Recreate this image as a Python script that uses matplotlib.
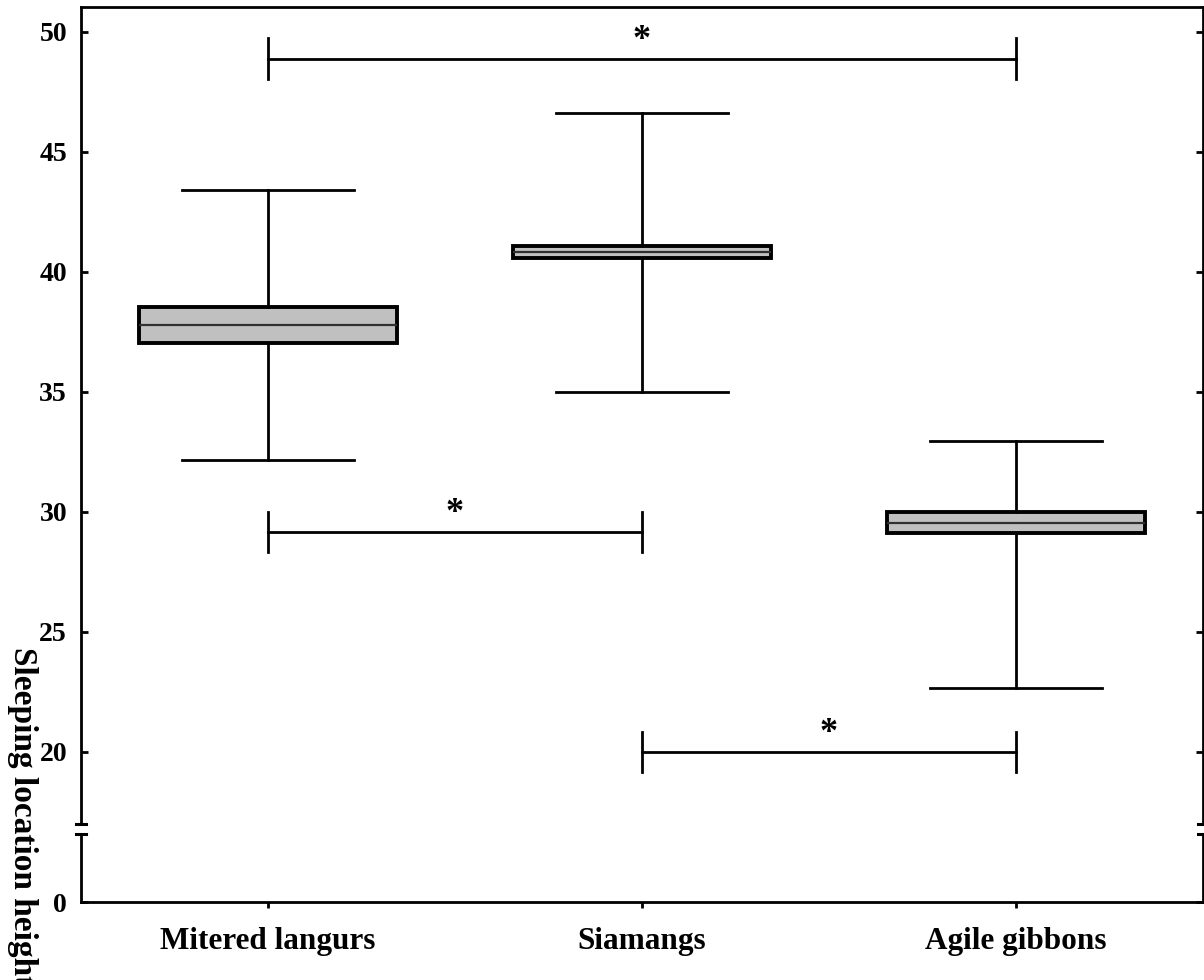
import matplotlib
matplotlib.use("Agg")
import matplotlib.pyplot as plt

plt.rcParams["font.family"] = ["Liberation Serif", "DejaVu Serif"]
plt.rcParams["font.weight"] = "bold"

# data (sleeping location height, m)
species = ["Mitered langurs", "Siamangs", "Agile gibbons"]
q1 = [37.04, 40.58, 29.12]
median = [37.79, 40.83, 29.55]
q3 = [38.54, 41.08, 30.00]
whisk_lo = [32.17, 35.00, 22.67]
whisk_hi = [43.42, 46.63, 32.96]

# significance brackets: (from, to, height)
brackets = [(0, 2, 48.88), (0, 1, 29.17), (1, 2, 20.0)]

yticks_top = [20, 25, 30, 35, 40, 45, 50]

W, H = 1204, 980
fig = plt.figure(figsize=(W / 100, H / 100), dpi=100)
left, right = 81 / W, 1203 / W
ax = fig.add_axes([left, (H - 824) / H, right - left, (824 - 7) / H])
axb = fig.add_axes([left, (H - 902) / H, right - left, (902 - 834) / H], sharex=ax)

stats = []
for i in range(len(species)):
    stats.append(dict(label=species[i], q1=q1[i], med=median[i], q3=q3[i],
                      whislo=whisk_lo[i], whishi=whisk_hi[i], fliers=[]))
pos = [1, 2, 3]
ax.bxp(stats, positions=pos, widths=0.69, patch_artist=True, showfliers=False,
       boxprops=dict(facecolor="#c0c0c0", edgecolor="black", linewidth=2.8),
       medianprops=dict(color="#303030", linewidth=1.6),
       whiskerprops=dict(color="black", linewidth=2),
       capprops=dict(color="black", linewidth=2), capwidths=0.46)

for a, b, h in brackets:
    x0, x1 = pos[a], pos[b]
    ax.plot([x0, x1], [h, h], color="black", lw=2)
    for x in (x0, x1):
        ax.plot([x, x], [h - 0.85, h + 0.85], color="black", lw=2)
    ax.text((x0 + x1) / 2, h + 0.78, "*", ha="center", va="center",
            fontsize=26, fontweight="bold")

ax.set_xlim(0.5, 3.5)
ax.set_ylim(17.0, 51.04)
ax.set_yticks(yticks_top)
ax.tick_params(axis="y", direction="in", length=5, width=2, labelsize=20,
               right=True, pad=10)
ax.tick_params(axis="x", bottom=False, labelbottom=False)
ax.spines["bottom"].set_visible(False)

axb.set_ylim(0, 68 / 24)
axb.set_yticks([0])
axb.tick_params(axis="y", direction="in", length=5, width=2, labelsize=20,
                right=True, pad=10)
axb.set_xticks(pos)
axb.set_xticklabels(species, fontsize=22.5, fontweight="bold")
axb.tick_params(axis="x", direction="out", length=4, width=2, pad=14)
axb.spines["top"].set_visible(False)

for a in (ax, axb):
    for s in a.spines.values():
        s.set_linewidth(2)
    a.patch.set_alpha(0)

# break marks on both vertical spines
for yp in (824, 834):
    yf = (H - yp) / H
    for xp in (81, 1203):
        fig.add_artist(plt.Line2D([(xp - 5) / W, (xp + 5) / W], [yf, yf],
                                  color="black", lw=2.2))

fig.text(23 / W, (H - 647) / H, "Sleeping location height (m)", rotation=-90,
         ha="center", va="top", fontsize=24, fontweight="bold")

fig.savefig("out.png", dpi=100)
